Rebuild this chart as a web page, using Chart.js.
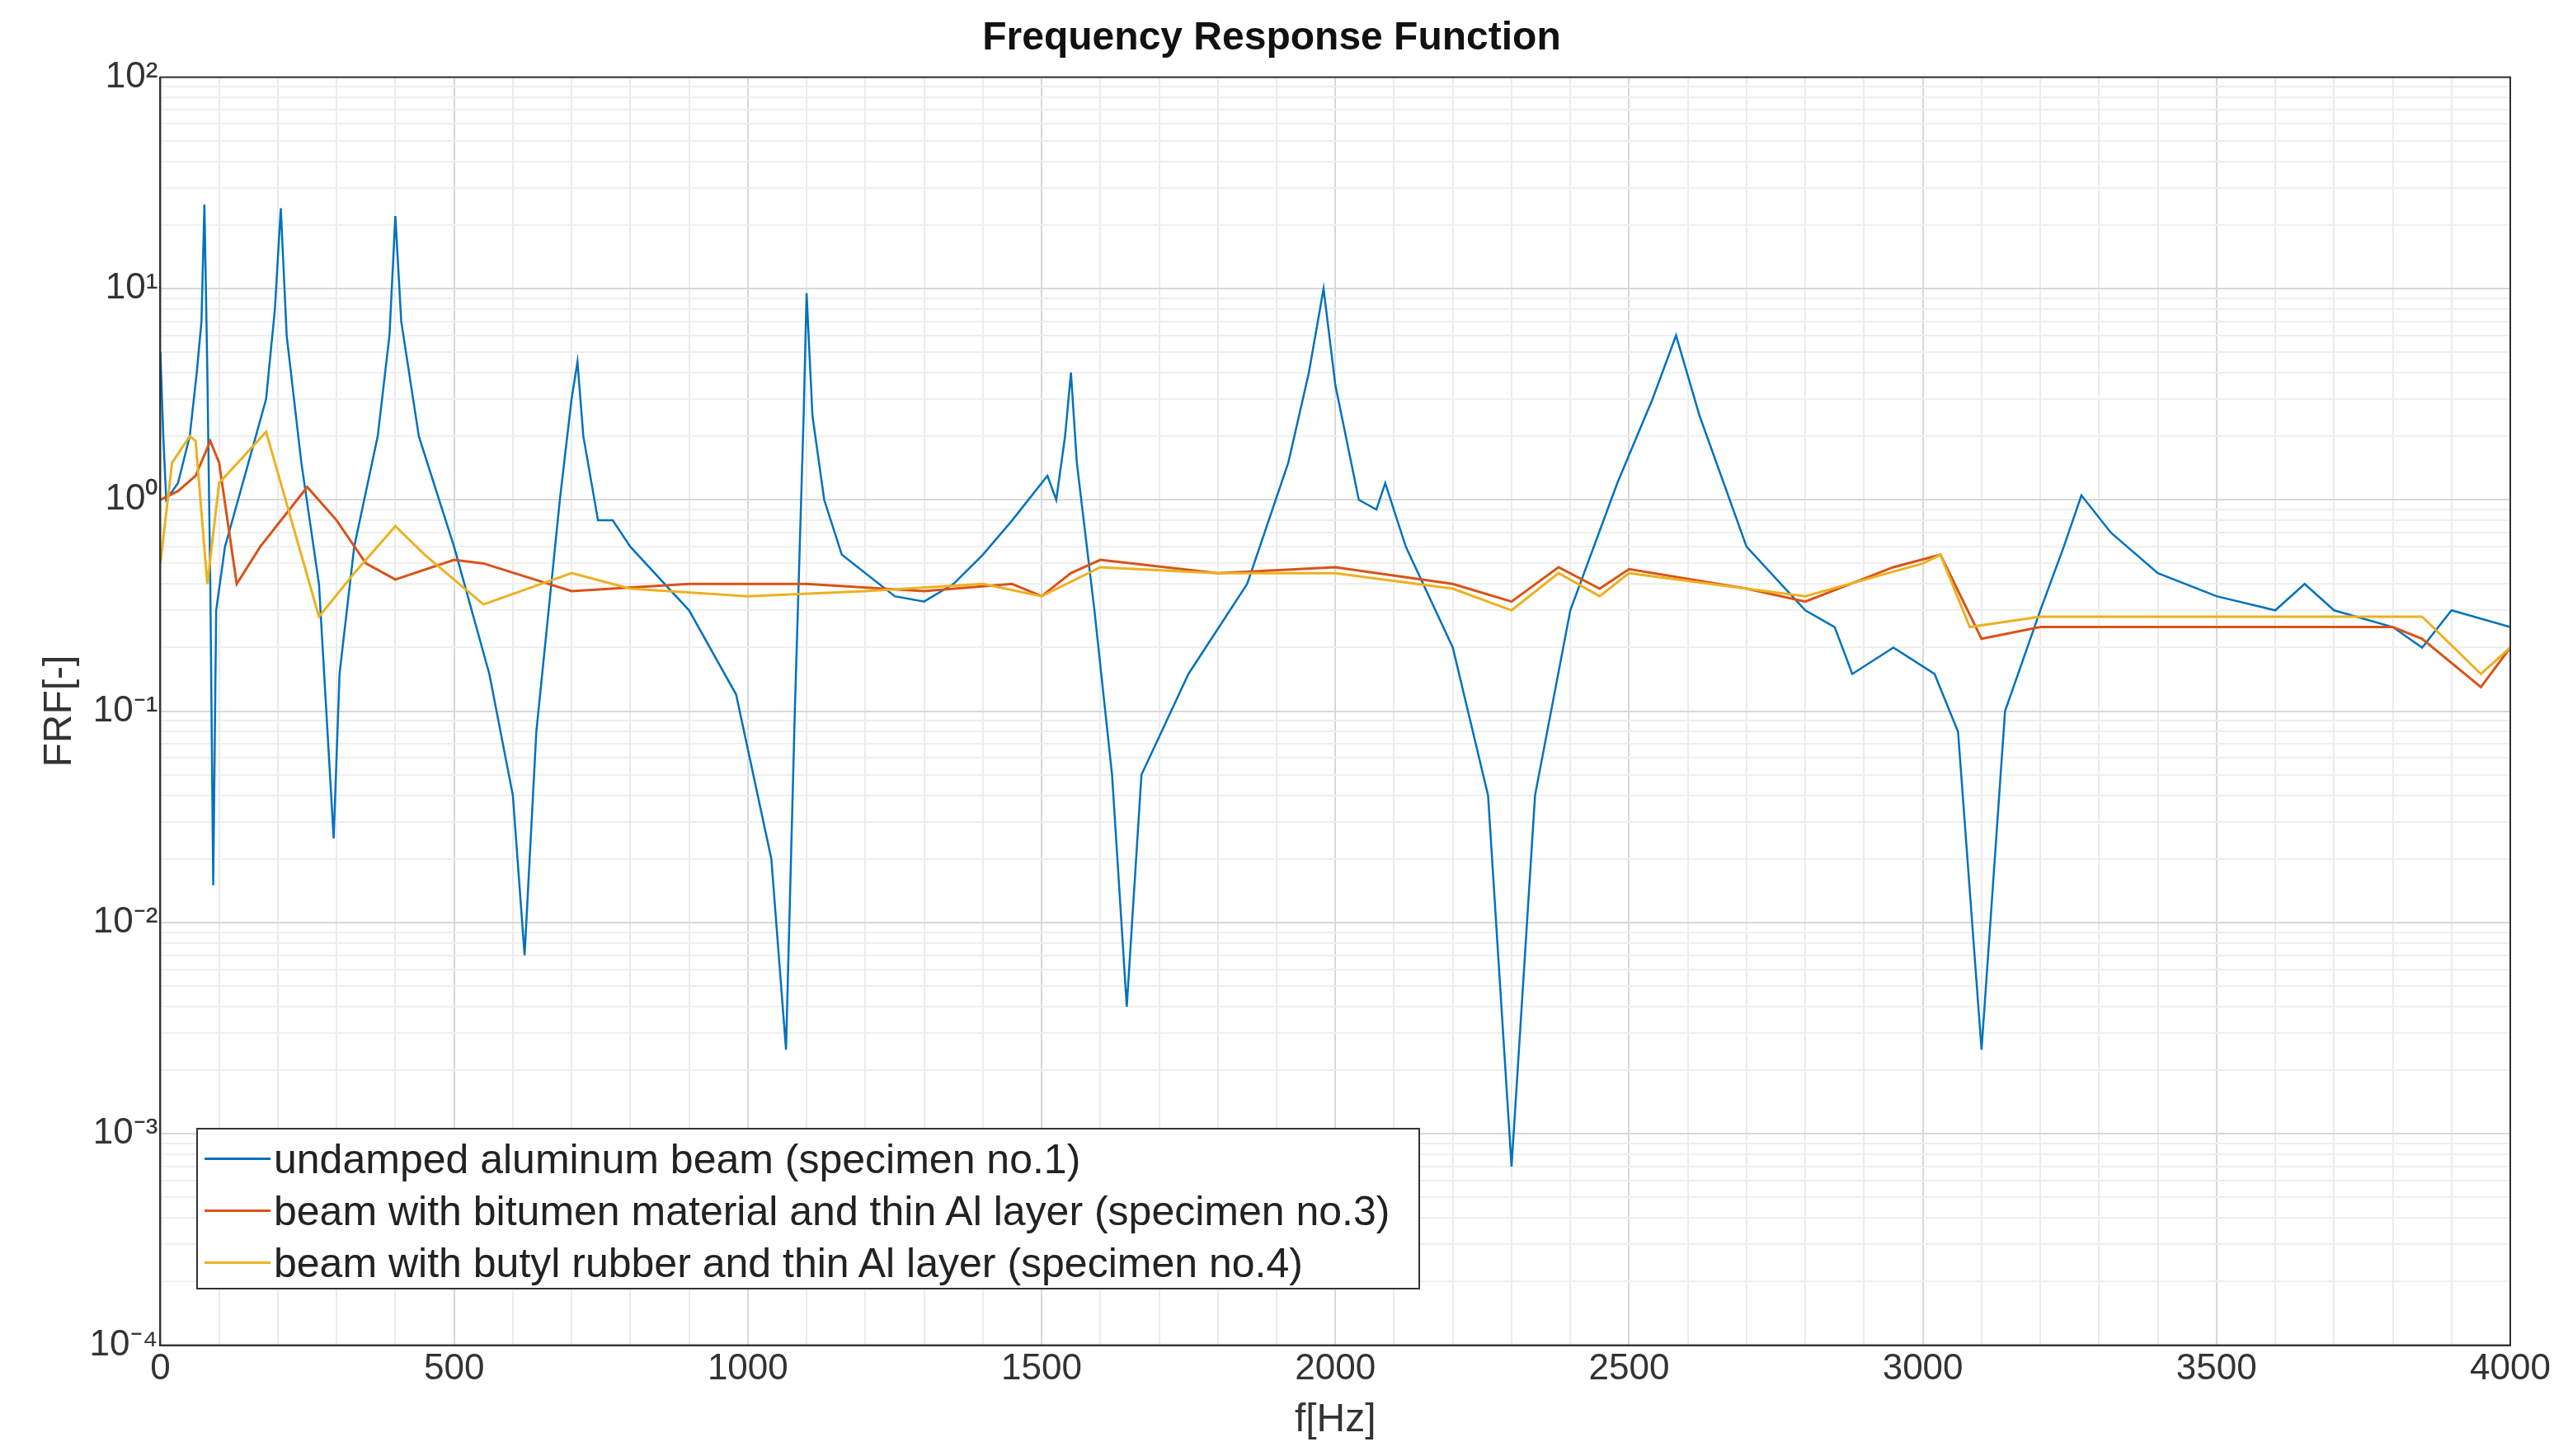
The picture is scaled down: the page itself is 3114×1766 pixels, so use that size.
<!DOCTYPE html>
<html><head><meta charset="utf-8">
<script src="https://cdn.jsdelivr.net/npm/chart.js@4/dist/chart.umd.min.js"></script>
<style>
html,body{margin:0;padding:0;background:#fff;}
#wrap{position:relative;width:3114px;height:1766px;}
#legend{position:absolute;left:238px;top:1368px;width:1484px;height:196px;border:2px solid #333;background:#fff;font-family:"Liberation Sans",Arial,sans-serif;font-size:50px;color:#222;box-sizing:border-box;padding-top:4px;}
.row{display:flex;align-items:center;height:63px;}
.ln{display:inline-block;width:80px;height:3px;margin:0 4px 0 8px;}
</style></head><body>
<div id="wrap"><canvas id="c" width="3114" height="1766"></canvas>
<div id="legend">
<div class="row"><span class="ln" style="background:#0072BD"></span>undamped aluminum beam (specimen no.1)</div>
<div class="row"><span class="ln" style="background:#D95319"></span>beam with bitumen material and thin Al layer (specimen no.3)</div>
<div class="row"><span class="ln" style="background:#EDB120"></span>beam with butyl rubber and thin Al layer (specimen no.4)</div>
</div></div>
<script>
const blueF=[0,5,10,30,50,62,70,75,80,85,90,95,110,150,180,195,205,215,240,270,295,305,330,370,390,400,410,440,500,560,600,620,640,680,700,710,720,745,770,800,900,980,1040,1065,1080,1095,1100,1110,1130,1160,1250,1300,1350,1400,1450,1510,1525,1540,1550,1560,1590,1620,1645,1670,1750,1850,1920,1955,1980,2000,2040,2070,2085,2120,2200,2260,2300,2340,2400,2480,2540,2580,2620,2700,2800,2850,2880,2950,3020,3060,3100,3140,3200,3240,3270,3320,3400,3500,3600,3650,3700,3800,3850,3900,4000];
const blueV=[5,2,1,1.2,2,4,7,25,4,0.4,0.015,0.3,0.6,1.5,3,8,24,6,1.5,0.4,0.025,0.15,0.6,2,6,22,7,2,0.6,0.15,0.04,0.007,0.08,1,3,4.5,2,0.8,0.8,0.6,0.3,0.12,0.02,0.0025,0.1,2.5,9.5,2.5,1,0.55,0.35,0.33,0.4,0.55,0.8,1.3,1.0,2,4,1.5,0.3,0.05,0.004,0.05,0.15,0.4,1.5,4,10,3.5,1,0.9,1.2,0.6,0.2,0.04,0.0007,0.04,0.3,1.2,3,6,2.5,0.6,0.3,0.25,0.15,0.2,0.15,0.08,0.0025,0.1,0.3,0.6,1.05,0.7,0.45,0.35,0.3,0.4,0.3,0.25,0.2,0.3,0.25];
const orangeF=[0,30,60,85,100,130,170,250,300,350,400,500,550,700,900,1100,1300,1450,1500,1550,1600,1800,2000,2200,2300,2380,2450,2500,2700,2800,2950,3030,3100,3200,3800,3850,3950,4000];
const orangeV=[1,1.1,1.3,1.9,1.5,0.4,0.6,1.15,0.8,0.5,0.42,0.52,0.5,0.37,0.4,0.4,0.37,0.4,0.35,0.45,0.52,0.45,0.48,0.4,0.33,0.48,0.38,0.47,0.38,0.33,0.48,0.55,0.22,0.25,0.25,0.22,0.13,0.2];
const yellowF=[0,20,50,60,80,100,180,270,330,400,450,550,700,800,1000,1200,1400,1500,1600,1800,2000,2200,2300,2380,2450,2500,2700,2800,3000,3030,3080,3200,3850,3950,4000];
const yellowV=[0.5,1.5,2,1.9,0.4,1.2,2.1,0.28,0.45,0.75,0.55,0.32,0.45,0.38,0.35,0.37,0.4,0.35,0.48,0.45,0.45,0.38,0.3,0.45,0.35,0.45,0.38,0.35,0.5,0.55,0.25,0.28,0.28,0.15,0.2];
const supers={'2':'10²','1':'10¹','0':'10⁰','-1':'10⁻¹','-2':'10⁻²','-3':'10⁻³','-4':'10⁻⁴'};
const pts=(f,v)=>f.map((x,i)=>({x,y:v[i]}));
const F='"Liberation Sans",Arial,sans-serif';
new Chart(document.getElementById('c'),{
type:'line',
data:{datasets:[
{data:pts(blueF,blueV),borderColor:'#0072BD',borderWidth:2.5,pointRadius:0,tension:0,order:3},
{data:pts(orangeF,orangeV),borderColor:'#D95319',borderWidth:3,pointRadius:0,tension:0,order:2},
{data:pts(yellowF,yellowV),borderColor:'#EDB120',borderWidth:3,pointRadius:0,tension:0,order:1}]},
options:{responsive:false,animation:false,parsing:true,
layout:{padding:{left:40,right:70,top:18,bottom:10}},
plugins:{legend:{display:false},tooltip:{enabled:false},
title:{display:true,text:'Frequency Response Function',font:{family:F,size:48,weight:'bold'},color:'#111',padding:{top:0,bottom:18}}},
scales:{
x:{type:'linear',min:0,max:4000,
ticks:{stepSize:100,autoSkip:false,maxRotation:0,font:{family:F,size:44},color:'#333',
callback:v=>v%500===0?String(v):''},
grid:{color:c=>c.tick&&c.tick.value%500===0?'#d8d8d8':'#ececec',lineWidth:2,drawTicks:false},
border:{color:'#333',width:2},
title:{display:true,text:'f[Hz]',font:{family:F,size:48},color:'#333',padding:{top:4}}},
y:{type:'logarithmic',min:1e-4,max:100,
ticks:{autoSkip:false,font:{family:F,size:44},color:'#333',
callback:v=>{const l=Math.log10(v);const r=Math.round(l);return Math.abs(l-r)<1e-9?supers[String(r)]:'';}},
afterBuildTicks:ax=>{const t=[];for(let e=-4;e<2;e++){for(let m=1;m<10;m++)t.push({value:m*Math.pow(10,e)});}t.push({value:100});ax.ticks=t;},
grid:{color:c=>{const l=Math.log10(c.tick.value);return Math.abs(l-Math.round(l))<1e-9?'#d8d8d8':'#efefef';},lineWidth:2,drawTicks:false},
border:{color:'#333',width:2},
title:{display:true,text:'FRF[-]',font:{family:F,size:48},color:'#333'}}
}},
plugins:[{id:'frame',afterDraw(ch){const a=ch.chartArea,x=ch.ctx;x.save();x.strokeStyle='#333';x.lineWidth=2;x.strokeRect(a.left,a.top,a.right-a.left,a.bottom-a.top);x.restore();}}]
});
</script></body></html>
